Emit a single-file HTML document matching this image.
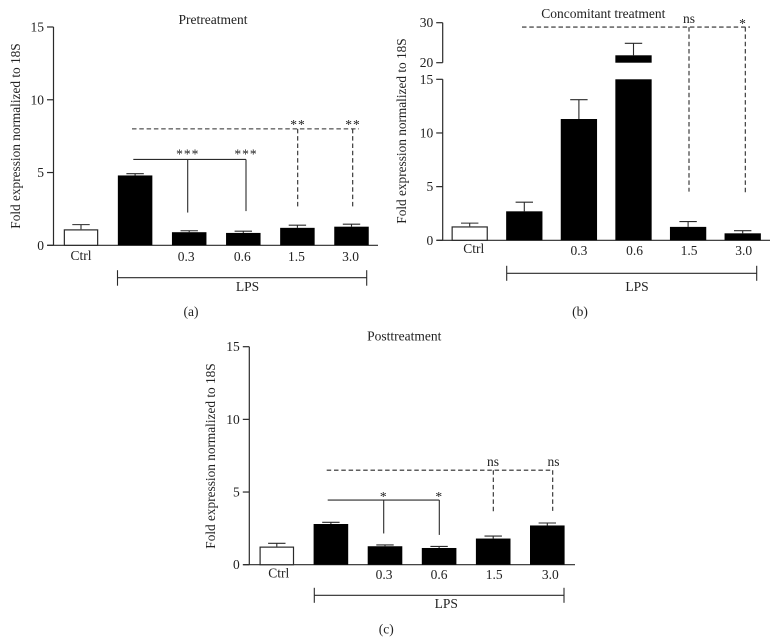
<!DOCTYPE html>
<html lang="en">
<head>
<meta charset="utf-8">
<title>Fold expression normalized to 18S</title>
<style>
html,body{margin:0;padding:0;background:#fff;}
svg{display:block;}
text{font-family:"Liberation Serif",serif;font-size:13.5px;fill:#222;}
.ytitle{font-size:13.3px;}
</style>
</head>
<body>
<svg id="figure" xmlns="http://www.w3.org/2000/svg" width="778" height="644" viewBox="0 0 778 644"></svg>
<script>
const doseLabels = ["Ctrl", "", "0.3", "0.6", "1.5", "3.0"];
const yTicksFull = [0, 5, 10, 15];
const yTicksUpper = [20, 30];

const pretreatmentMeans = [1.1, 4.8, 0.9, 0.85, 1.2, 1.28];
const pretreatmentErrorTops = [1.42, 4.92, 1.0, 0.97, 1.38, 1.45];
const pretreatmentSolidLevel = 5.9;
const pretreatmentSolidEnds = [2.25, 2.35];
const pretreatmentSolidMarks = ["***", "***"];
const pretreatmentDashedLevel = 8.0;
const pretreatmentDashedEnds = [2.65, 2.55];
const pretreatmentDashedMarks = ["**", "**"];

const concomitantMeans = [1.3, 2.7, 11.3, 21.85, 1.25, 0.65];
const concomitantErrorTops = [1.6, 3.55, 13.1, 24.85, 1.75, 0.9];
const concomitantDashedLevel = 28.9;
const concomitantDashedEnds = [4.53, 4.38];
const concomitantDashedMarks = ["ns", "*"];

const posttreatmentMeans = [1.25, 2.8, 1.27, 1.15, 1.8, 2.7];
const posttreatmentErrorTops = [1.47, 2.92, 1.36, 1.26, 1.97, 2.87];
const posttreatmentSolidLevel = 4.45;
const posttreatmentSolidEnds = [2.15, 2.05];
const posttreatmentSolidMarks = ["*", "*"];
const posttreatmentDashedLevel = 6.5;
const posttreatmentDashedEnds = [3.65, 3.7];
const posttreatmentDashedMarks = ["ns", "ns"];

const NS = "http://www.w3.org/2000/svg";
const INK = "#2a2a2a";
const root = document.getElementById("figure");

function make(parent, tag, attrs, content) {
  const el = document.createElementNS(NS, tag);
  for (const k in attrs) el.setAttribute(k, attrs[k]);
  if (content !== undefined) el.textContent = content;
  parent.appendChild(el);
  return el;
}
function segment(parent, x1, y1, x2, y2, dashed, width) {
  const el = make(parent, "line", {x1: x1, y1: y1, x2: x2, y2: y2, stroke: INK, "stroke-width": width || 1.1});
  if (dashed) el.setAttribute("stroke-dasharray", "4.5 2.8");
  return el;
}
function label(parent, x, y, str, anchor) {
  return make(parent, "text", {x: x, y: y, "text-anchor": anchor || "middle"}, str);
}

function drawPanel(p) {
  const g = make(root, "g", {});
  
  

  const y = p.y;
  const barX = i => p.barStart + p.barStep * i;

  const title = label(g, p.titleX, p.titleY, p.title);
  
  

  const yTitle = make(g, "text", {x: 0, y: 0, "class": "ytitle", "text-anchor": "middle", transform: "translate(" + p.yTitleX + "," + p.yTitleY + ") rotate(-90)"}, "Fold expression normalized to 18S");
  
  

  const axisGroups = p.axisSpans;
  axisGroups.forEach(function (span) {
    const axis = segment(g, p.axisX, y(span[0]), p.axisX, y(span[1]), false, 1.2);
    
    
  });
  const xAxis = segment(g, p.axisX - 6, y(0), p.axisEnd, y(0), false, 1.2);
  
  

  p.ticks.forEach(function (t) {
    const tick = segment(g, p.axisX - 6.5, y(t), p.axisX, y(t), false, 1.2);
    
    
    const tl = label(g, p.axisX - 9.5, y(t) + 4.5, String(t), "end");
    
    
  });

  p.means.forEach(function (v, i) {
    const cx = barX(i);
    const left = cx - p.barWidth / 2;
    const err = segment(g, cx, y(v), cx, y(p.tops[i]), false, 1.1);
    
    
    const cap = segment(g, cx - 8.7, y(p.tops[i]), cx + 8.7, y(p.tops[i]), false, 1.1);
    
    
    const parts = [];
    if (p.breakLow !== undefined && v > p.breakLow) {
      parts.push([0, p.breakLow]);
      parts.push([p.breakHigh, v]);
    } else {
      parts.push([0, v]);
    }
    parts.forEach(function (part) {
      const top = y(part[1]);
      const bottom = y(part[0]);
      const bar = make(g, "rect", {
        x: i === 0 ? left + 0.6 : left,
        y: i === 0 ? top + 0.6 : top,
        width: i === 0 ? p.barWidth - 1.2 : p.barWidth,
        height: i === 0 ? bottom - top - 0.6 : bottom - top,
        fill: i === 0 ? "#fff" : "#000",
        stroke: i === 0 ? INK : "none",
        "stroke-width": 1.2
      });
      
      
    });
    if (doseLabels[i]) {
      const cat = label(g, cx + p.labelShift[i], i === 0 ? p.ctrlLabelY : p.doseLabelY, doseLabels[i]);
      
      
    }
  });

  if (p.solidLevel !== undefined) {
    const lvl = y(p.solidLevel);
    const solid = segment(g, p.solidStart, lvl, p.solidXs[1], lvl, false, 1.1);
    
    
    p.solidEnds.forEach(function (v, i) {
      const drop = segment(g, p.solidXs[i], lvl, p.solidXs[i], y(v), false, 1.1);
      
      
      const mark = label(g, p.solidXs[i], lvl + p.solidMarkDy, p.solidMarks[i]);
      mark.setAttribute("letter-spacing", "1");
      
      
    });
  }

  const dl = y(p.dashedLevel);
  const dashed = segment(g, p.dashedStart, dl, p.dashedEnd, dl, true, 1.1);
  
  
  p.dashedEnds.forEach(function (v, i) {
    const drop = segment(g, p.dashedXs[i], dl, p.dashedXs[i], y(v), true, 1.1);
    
    
    const str = p.dashedMarks[i];
    const isNs = str === "ns";
    const mark = label(g, p.dashedMarkXs[i], dl + (isNs ? p.nsDy : p.starDy), str);
    mark.setAttribute("letter-spacing", isNs ? "0" : "1");
    
    
  });

  const br = p.bracket;
  const brLine = segment(g, br.x1, br.y, br.x2, br.y, false, 1.1);
  
  
  [br.x1, br.x2].forEach(function (bx) {
    const end = segment(g, bx, br.y - br.up, bx, br.y + br.down, false, 1.1);
    
    
  });
  const lps = label(g, br.textX, br.textY, "LPS");
  
  

  const cap = label(g, p.capX, p.capY, p.caption);
  
  
}

function linearAxis(zeroPx, fifteenPx) {
  return v => zeroPx + (fifteenPx - zeroPx) * v / 15;
}
function brokenAxis(zeroPx, fifteenPx, twentyPx, thirtyPx) {
  return v => v <= 15 ? zeroPx + (fifteenPx - zeroPx) * v / 15
                      : twentyPx + (thirtyPx - twentyPx) * (v - 20) / 10;
}

drawPanel({
  id: "pretreatment", title: "Pretreatment", caption: "(a)",
  y: linearAxis(245.3, 27), axisSpans: [[0, 15]], ticks: yTicksFull,
  axisX: 53.5, axisEnd: 378, barStart: 81, barStep: 54.1, barWidth: 34.5,
  means: pretreatmentMeans, tops: pretreatmentErrorTops,
  titleX: 213, titleY: 24, yTitleX: 20, yTitleY: 136,
  labelShift: [0, 0, -3, -1, -1, -1], ctrlLabelY: 260, doseLabelY: 261,
  solidLevel: pretreatmentSolidLevel, solidStart: 133.3, solidXs: [187.7, 246],
  solidEnds: pretreatmentSolidEnds, solidMarks: pretreatmentSolidMarks, solidMarkDy: -1,
  dashedLevel: pretreatmentDashedLevel, dashedStart: 132, dashedEnd: 359,
  dashedXs: [297.7, 352.7], dashedMarkXs: [298, 353],
  dashedEnds: pretreatmentDashedEnds, dashedMarks: pretreatmentDashedMarks, nsDy: -3, starDy: 0,
  bracket: {x1: 117.5, x2: 366.7, y: 277.7, up: 7.5, down: 8, textX: 247.5, textY: 291},
  capX: 191, capY: 316
});

drawPanel({
  id: "concomitant", title: "Concomitant treatment", caption: "(b)",
  y: brokenAxis(240.3, 79.3, 62.7, 22.7), axisSpans: [[0, 15], [20, 30]], ticks: yTicksFull.concat(yTicksUpper),
  axisX: 442.7, axisEnd: 770, barStart: 469.7, barStep: 54.6, barWidth: 36.3,
  breakLow: 15, breakHigh: 20,
  means: concomitantMeans, tops: concomitantErrorTops,
  titleX: 603.3, titleY: 18, yTitleX: 406, yTitleY: 131,
  labelShift: [4, 0, 0, 1, 1, 1], ctrlLabelY: 253, doseLabelY: 255,
  dashedLevel: concomitantDashedLevel, dashedStart: 522, dashedEnd: 750,
  dashedXs: [689, 745.3], dashedMarkXs: [689, 743],
  dashedEnds: concomitantDashedEnds, dashedMarks: concomitantDashedMarks, nsDy: -4, starDy: 1,
  bracket: {x1: 506.7, x2: 756.7, y: 273.3, up: 7.5, down: 7.5, textX: 637, textY: 291},
  capX: 580, capY: 316
});

drawPanel({
  id: "posttreatment", title: "Posttreatment", caption: "(c)",
  y: linearAxis(564.7, 346.7), axisSpans: [[0, 15]], ticks: yTicksFull,
  axisX: 249.3, axisEnd: 575, barStart: 276.8, barStep: 54.1, barWidth: 34.6,
  means: posttreatmentMeans, tops: posttreatmentErrorTops,
  titleX: 404.3, titleY: 340.5, yTitleX: 215, yTitleY: 456,
  labelShift: [2, 0, -1, 0, 1, 3], ctrlLabelY: 577.5, doseLabelY: 579,
  solidLevel: posttreatmentSolidLevel, solidStart: 327.7, solidXs: [383.7, 439.3],
  solidEnds: posttreatmentSolidEnds, solidMarks: posttreatmentSolidMarks, solidMarkDy: 1,
  dashedLevel: posttreatmentDashedLevel, dashedStart: 326.7, dashedEnd: 552.7,
  dashedXs: [493.3, 552.7], dashedMarkXs: [493, 553.5],
  dashedEnds: posttreatmentDashedEnds, dashedMarks: posttreatmentDashedMarks, nsDy: -4, starDy: 0,
  bracket: {x1: 314.3, x2: 564, y: 595.3, up: 7.5, down: 7.5, textX: 446.3, textY: 608},
  capX: 386.3, capY: 633.5
});
</script>
</body>
</html>
